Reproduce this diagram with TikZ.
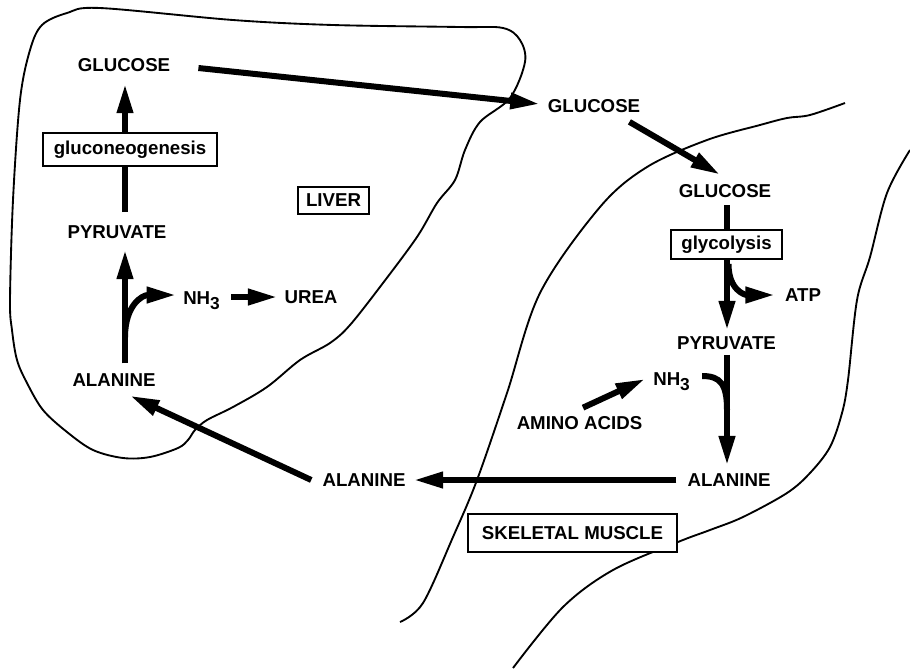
\documentclass[tikz,border=0pt]{standalone}
\usepackage{fontspec}
\setmainfont{Liberation Sans}
\usetikzlibrary{arrows.meta}
\newcommand{\subthree}{\raisebox{-0.32em}{\fontsize{13}{13}\selectfont 3}}
\begin{document}
\begin{tikzpicture}[x=0.75pt,y=-0.75pt,
  lbl/.style={inner sep=0pt, font=\fontsize{14}{16}\selectfont\bfseries},
  boxed/.style={lbl, draw, line width=1.5pt, fill=white},
  outline/.style={line width=1.4pt, line join=round},
  shaft/.style={line width=4.5pt},
  arr/.style={line width=4.5pt, -{Triangle[length=22pt,width=11.5pt]}},
]
\useasboundingbox[fill=white] (0,0) rectangle (910,669);

% outlines
\draw[outline] plot[smooth cycle, tension=0.55] coordinates {
 (67,13) (100,8) (233,20) (333,25) (460,27) (503,28) (520,40) (525,62)
 (510,98) (480,122) (465,150) (455,180) (437,203) (417,237) (383,283)
 (350,325) (330,343) (300,360) (267,387) (233,407) (207,420) (195,430)
 (188,440) (178,448) (150,457) (123,458) (93,450) (67,432) (43,410)
 (27,383) (17,360) (12,330) (10,300) (13,200) (20,100) (30,50) (42,25)};
\draw[outline] plot[smooth, tension=0.55] coordinates {
 (845,103) (810,115) (787,118) (760,125) (707,140) (647,167) (600,207)
 (540,293) (507,393) (477,480) (453,537) (423,603) (400,622)};
\draw[outline] plot[smooth, tension=0.55] coordinates {
 (910,150) (887,193) (870,257) (857,300) (848,380) (842,413) (830,447)
 (810,473) (787,493) (743,517) (710,530) (678,542) (613,570) (563,607) (513,668)};

% liver nodes
\node[lbl] (gl1) at (124,65) {GLUCOSE};
\node[boxed, minimum width=130.5pt, minimum height=24.75pt] (gneo) at (130,149.5) {gluconeogenesis};
\node[lbl] (pyl) at (117,232) {PYRUVATE};
\node[lbl, anchor=base west] (nhl) at (183,304) {NH\subthree};
\node[lbl] (urea) at (311,297) {UREA};
\node[lbl] (all) at (114,380) {ALANINE};
\node[boxed, minimum width=53.25pt, minimum height=20.25pt] (liver) at (333.5,200.5) {LIVER};

% muscle nodes
\node[lbl] (gm1) at (594,106) {GLUCOSE};
\node[lbl] (gm2) at (725,191.5) {GLUCOSE};
\node[boxed, minimum width=83.25pt, minimum height=21.75pt] (glyc) at (726.5,244.5) {glycolysis};
\node[lbl] (atp) at (803,295) {ATP};
\node[lbl] (pyr) at (726.5,343) {PYRUVATE};
\node[lbl, anchor=base west] (nhr) at (653,385) {NH\subthree};
\node[lbl] (amino) at (579.5,423.5) {AMINO ACIDS};
\node[lbl] (alr) at (729,480) {ALANINE};
\node[lbl] (alm) at (364,480) {ALANINE};

% liver connectors
\draw[arr] ([shift={(-5,0)}]gneo.north) -- ([shift={(1,12)}]gl1.south);
\draw[shaft] ([shift={(8,-13)}]pyl.north) -- ([shift={(-5,0)}]gneo.south);
\draw[arr] ([shift={(11,-10)}]all.north) -- ([shift={(8,11)}]pyl.south);
\draw[arr] ([shift={(11,-36)}]all.north) .. controls +(0,-32) and +(-34,0) .. ([shift={(-7,-9)}]nhl.base west);
\draw[arr] ([shift={(-53,0)}]urea.west) -- ([shift={(-7,0)}]urea.west);

% between organs
\draw[arr] ([shift={(28,3)}]gl1.east) -- ([shift={(-8,-2)}]gm1.west);
\draw[arr] ([shift={(-11,9)}]gm1.south east) -- ([shift={(-5,-10)}]gm2.north);
\draw[arr] ([shift={(-11,0)}]alr.west) -- ([shift={(8,0)}]alm.east);
\draw[arr] ([shift={(-11,0)}]alm.west) -- ([shift={(16,9)}]all.south);

% muscle connectors
\draw[shaft] ([shift={(2,7)}]gm2.south) -- ([shift={(0.5,0)}]glyc.north);
\draw[arr] ([shift={(0.5,0)}]glyc.south) -- ([shift={(0.5,-6)}]pyr.north);
\draw[arr] ([shift={(2,4)}]glyc.south) .. controls +(0,26) and +(-30,0) .. ([shift={(-10,0)}]atp.west);
\draw[arr] ([shift={(0.5,5)}]pyr.south) -- ([shift={(-2,-8)}]alr.north);
\draw[shaft] ([shift={(12,-9)}]nhr.base east) .. controls +(18,0) and +(0,-26) .. ([shift={(0.5,60)}]pyr.south);
\draw[arr] ([shift={(3.5,-9)}]amino.north) -- ([shift={(-8,-6)}]nhr.base west);

\node[boxed, minimum width=156.75pt, minimum height=28.5pt] (skm) at (572.5,533) {SKELETAL MUSCLE};
\end{tikzpicture}
\end{document}
